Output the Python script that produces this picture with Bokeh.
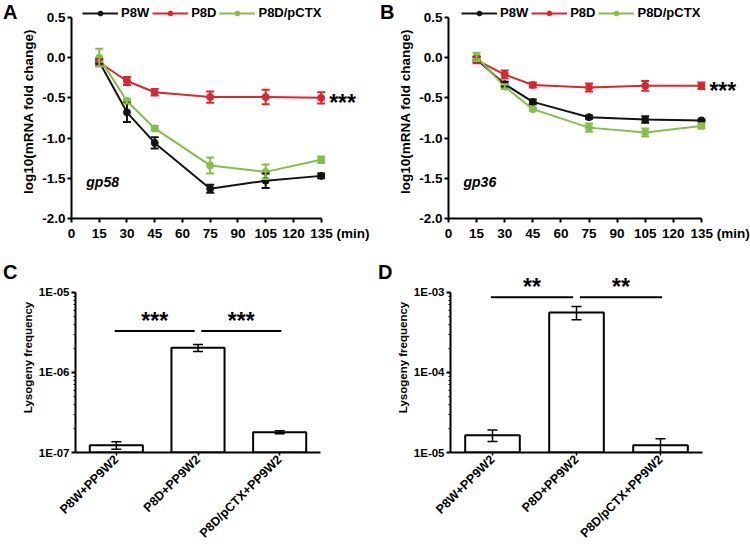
from math import pi
from bokeh.plotting import figure
from bokeh.models import (ColumnDataSource, Whisker, TeeHead, Legend, LegendItem, Label,
                          FixedTicker, Range1d, FactorRange, CustomJSTickFormatter,
                          LinearAxis, LogAxis)
from bokeh.layouts import row, column
from bokeh.embed import file_html
from bokeh.resources import INLINE
from bokeh.core.properties import value

FONT = "Liberation Sans"

# ---------------- data ----------------
time_min = [15, 30, 45, 75, 105, 135]
time_ticks = [0, 15, 30, 45, 60, 75, 90, 105, 120, 135]
time_unit = "(min)"
logfc_ticks = [-2.0, -1.5, -1.0, -0.5, 0.0, 0.5]
series_labels = ["P8W", "P8D", "P8D/pCTX"]
series_colors = ["#141414", "#d7282f", "#84bf47"]

# panel A: gp58
gp58_p8w = [-0.05, -0.68, -1.06, -1.63, -1.53, -1.47]
gp58_p8w_sd = [0.03, 0.12, 0.07, 0.05, 0.09, 0.03]
gp58_p8d = [-0.06, -0.29, -0.43, -0.49, -0.49, -0.50]
gp58_p8d_sd = [0.04, 0.05, 0.04, 0.07, 0.09, 0.07]
gp58_pctx = [0.00, -0.54, -0.88, -1.34, -1.42, -1.27]
gp58_pctx_sd = [0.11, 0.03, 0.03, 0.10, 0.09, 0.04]

# panel B: gp36
gp36_p8w = [-0.02, -0.33, -0.55, -0.74, -0.77, -0.78]
gp36_p8w_sd = [0.03, 0.03, 0.03, 0.02, 0.04, 0.01]
gp36_p8d = [-0.03, -0.21, -0.34, -0.37, -0.35, -0.35]
gp36_p8d_sd = [0.04, 0.05, 0.03, 0.05, 0.06, 0.04]
gp36_pctx = [0.01, -0.36, -0.64, -0.87, -0.93, -0.85]
gp36_pctx_sd = [0.05, 0.03, 0.02, 0.05, 0.05, 0.03]

line_sig_text = "***"

# panels C and D: lysogeny frequency
lyso_groups = ["P8W+PP9W2", "P8D+PP9W2", "P8D/pCTX+PP9W2"]
lyso_c = [1.23e-7, 2.03e-6, 1.79e-7]
lyso_c_sd = [1.3e-8, 2.1e-7, 8e-9]
lyso_c_ticks = [1e-7, 1e-6, 1e-5]
lyso_d = [1.64e-5, 5.6e-4, 1.23e-5]
lyso_d_sd = [2.7e-6, 1.05e-4, 2.6e-6]
lyso_d_ticks = [1e-5, 1e-4, 1e-3]
sig_pairs = [(0, 1), (1, 2)]
sig_c_y = 3.3e-6
sig_c_text = ["***", "***"]
sig_d_y = 8.7e-4
sig_d_text = ["**", "**"]


def base_style(p):
    p.xgrid.visible = False
    p.ygrid.visible = False
    p.outline_line_color = None
    p.background_fill_color = "white"
    p.border_fill_color = "white"
    for ax in (p.xaxis[0], p.yaxis[0]):
        ax.axis_line_width = 2
        ax.axis_line_color = "black"
        ax.major_tick_line_width = 2
        ax.major_tick_line_color = "black"
        ax.major_tick_in = 0
        ax.major_tick_out = 4
        ax.minor_tick_line_color = None
        ax.major_label_text_font = FONT
        ax.major_label_text_font_style = "bold"
        ax.major_label_text_color = "black"
        ax.axis_label_text_font = FONT
        ax.axis_label_text_font_style = "bold"
        ax.axis_label_text_color = "black"


def letter_axis(p, cls, tick, letter):
    ax = cls(ticker=FixedTicker(ticks=[tick]), major_label_overrides={tick: letter},
             axis_line_color=None, major_tick_line_color=None, minor_tick_line_color=None,
             major_tick_in=0, major_tick_out=0, minor_tick_in=0, minor_tick_out=0,
             major_label_standoff=1, major_label_text_font=FONT,
             major_label_text_font_size="20px", major_label_text_font_style="bold",
             major_label_text_color="black")
    p.add_layout(ax, "left")


def line_panel(letter, gene, series, left, x_end, legend_x):
    p = figure(width=375, height=243, output_backend="svg", toolbar_location=None,
               x_range=Range1d(0, x_end), y_range=Range1d(-2.0, 0.661),
               min_border_left=left, min_border_right=0, min_border_top=4,
               min_border_bottom=24)
    base_style(p)
    p.xaxis.ticker = FixedTicker(ticks=time_ticks)
    p.xaxis.bounds = (time_ticks[0], time_ticks[-1])
    p.xaxis.major_label_text_font_size = "13.5px"
    p.xaxis.major_label_standoff = 3
    last = time_ticks[-1]
    p.xaxis.major_label_overrides = {last: "\u00a0" * 10 + f"{last} {time_unit}"}
    p.yaxis.ticker = FixedTicker(ticks=logfc_ticks)
    p.yaxis.bounds = (logfc_ticks[0], logfc_ticks[-1])
    p.yaxis.formatter = CustomJSTickFormatter(code="return tick.toFixed(1);")
    p.yaxis.major_label_text_font_size = "13.5px"
    p.yaxis.major_label_standoff = 2
    p.yaxis.axis_label = "log10(mRNA fold change)"
    p.yaxis.axis_label_text_font_size = "13.5px"
    p.yaxis.axis_label_standoff = 3
    letter_axis(p, LinearAxis, 0.58, letter)

    items = []
    for (name, vals, sds), color in zip(series, series_colors):
        src = ColumnDataSource(dict(t=time_min, v=vals,
                                    lo=[v - s for v, s in zip(vals, sds)],
                                    hi=[v + s for v, s in zip(vals, sds)]))
        r_line = p.line("t", "v", source=src, line_color=color, line_width=2)
        w = Whisker(base="t", lower="lo", upper="hi", source=src, level="glyph",
                    line_color=color, line_width=2,
                    upper_head=TeeHead(size=8, line_color=color, line_width=2),
                    lower_head=TeeHead(size=8, line_color=color, line_width=2))
        p.add_layout(w)
        r_pt = p.scatter("t", "v", source=src, size=7, marker="circle",
                         fill_color=color, line_color=color)
        items.append(LegendItem(label=name, renderers=[r_line, r_pt]))

    leg = Legend(items=items, orientation="horizontal", location=(legend_x, 198),
                 glyph_width=36, glyph_height=12, label_height=12, label_width=10,
                 label_standoff=3, spacing=3, padding=0, margin=0,
                 border_line_color=None, background_fill_alpha=0,
                 label_text_font=FONT, label_text_font_size="13px",
                 label_text_font_style="bold", label_text_color="black")
    p.add_layout(leg)

    red_vals = series[1][1]
    p.text(x=[time_min[-1]], y=[red_vals[-1]], text=[line_sig_text], x_offset=8, y_offset=5,
           text_align="left", text_baseline="alphabetic", text_font=value(FONT),
           text_font_size="23px", text_font_style="bold", text_color="black")

    p.add_layout(Label(x=8, y=-1.55, text=gene, text_font=FONT, text_font_size="14px",
                       text_font_style="bold italic", text_baseline="middle",
                       text_color="black"))
    return p


def bar_panel(letter, vals, sds, ticks, y_top, letter_y, sig_y, sig_text, left, right):
    p = figure(width=375, height=305, output_backend="svg", toolbar_location=None,
               x_range=FactorRange(*lyso_groups), y_range=Range1d(ticks[0], y_top),
               y_axis_type="log",
               min_border_left=left, min_border_right=right, min_border_top=19,
               min_border_bottom=95)
    base_style(p)
    minor = [m * t for t in ticks[:-1] for m in range(2, 10)]
    p.yaxis.ticker = FixedTicker(ticks=ticks, minor_ticks=minor)
    p.yaxis.bounds = (ticks[0], ticks[-1])
    p.yaxis.formatter = CustomJSTickFormatter(code="""
        const e = Math.round(Math.log10(tick));
        const s = e < 0 ? "-" : "+";
        return "1E" + s + String(Math.abs(e)).padStart(2, "0");""")
    p.yaxis.major_label_text_font_size = "11.5px"
    p.yaxis.major_label_standoff = 2
    p.yaxis.minor_tick_line_color = "black"
    p.yaxis.minor_tick_line_width = 1
    p.yaxis.minor_tick_in = 0
    p.yaxis.minor_tick_out = 2
    p.yaxis.axis_label = "Lysogeny frequency"
    p.yaxis.axis_label_text_font_size = "11.5px"
    p.yaxis.axis_label_standoff = 2
    letter_axis(p, LogAxis, letter_y, letter)

    p.xaxis.major_label_orientation = pi / 4
    p.xaxis.major_label_text_font_size = "12.5px"
    p.xaxis.major_tick_out = 3
    p.xaxis.major_tick_line_width = 1.5
    p.xaxis.major_label_standoff = 2

    src = ColumnDataSource(dict(g=lyso_groups, v=vals,
                                lo=[v - s for v, s in zip(vals, sds)],
                                hi=[v + s for v, s in zip(vals, sds)]))
    p.vbar(x="g", top="v", bottom=ticks[0], width=0.65, source=src,
           fill_color="white", line_color="black", line_width=2)
    p.add_layout(Whisker(base="g", lower="lo", upper="hi", source=src, level="glyph",
                         line_color="black", line_width=1.5,
                         upper_head=TeeHead(size=10, line_color="black", line_width=1.5),
                         lower_head=TeeHead(size=10, line_color="black", line_width=1.5)))

    off0 = [-0.02, 0.04]
    off1 = [-0.04, 0.02]
    bx0 = [(lyso_groups[a], o) for (a, b), o in zip(sig_pairs, off0)]
    bx1 = [(lyso_groups[b], o) for (a, b), o in zip(sig_pairs, off1)]
    sx = [(lyso_groups[a], (o0 + 1 + o1) / 2) for (a, b), o0, o1 in zip(sig_pairs, off0, off1)]
    ys = [sig_y] * len(sig_pairs)
    p.segment(x0=bx0, x1=bx1, y0=ys, y1=ys, line_color="black", line_width=2)
    p.text(x=sx, y=ys, text=sig_text, y_offset=-10, text_align="center",
           text_baseline="alphabetic", text_font=value(FONT), text_font_size="23px",
           text_font_style="bold", text_color="black")
    return p


pA = line_panel("A", "gp58",
                [(series_labels[0], gp58_p8w, gp58_p8w_sd),
                 (series_labels[1], gp58_p8d, gp58_p8d_sd),
                 (series_labels[2], gp58_pctx, gp58_pctx_sd)],
                left=67, x_end=164.4, legend_x=11)
pB = line_panel("B", "gp36",
                [(series_labels[0], gp36_p8w, gp36_p8w_sd),
                 (series_labels[1], gp36_p8d, gp36_p8d_sd),
                 (series_labels[2], gp36_pctx, gp36_pctx_sd)],
                left=73, x_end=161.2, legend_x=13)
pC = bar_panel("C", lyso_c, lyso_c_sd, lyso_c_ticks, 2.36e-5, 1.8e-5,
               sig_c_y, sig_c_text, 67, 55)
pD = bar_panel("D", lyso_d, lyso_d_sd, lyso_d_ticks, 2.36e-3, 1.8e-3,
               sig_d_y, sig_d_text, 72, 48)

layout = column(row(pA, pB), row(pC, pD))
open("out.html", "w").write(file_html(layout, INLINE))
